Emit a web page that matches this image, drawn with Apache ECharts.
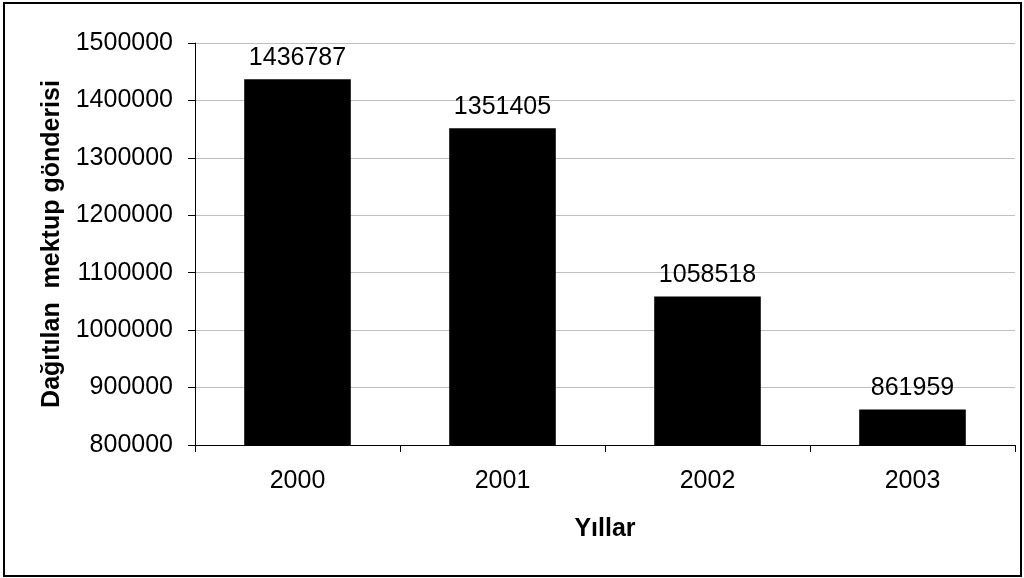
<!DOCTYPE html>
<html>
<head>
<meta charset="utf-8">
<script src="https://cdn.jsdelivr.net/npm/echarts@6/dist/echarts.min.js"></script>
<style>
  html, body { margin: 0; padding: 0; background: #fff; }
  #main { width: 1024px; height: 578px; }
</style>
</head>
<body>
<div id="main"></div>
<script>
var years = ['2000', '2001', '2002', '2003'];
var letters = [1436787, 1351405, 1058518, 861959];
var yTicks = { min: 800000, max: 1500000, step: 100000 };

var myChart = echarts.init(document.getElementById('main'));
var font = 'Liberation Sans, Arial, sans-serif';

var option = {
    animation: false,
    backgroundColor: '#fff',
    textStyle: { fontFamily: font },
    graphic: [{
        type: 'rect',
        shape: { x: 4, y: 3, width: 1017, height: 573 },
        style: { fill: 'none', stroke: '#000', lineWidth: 2 }
    }],
    grid: { left: 195, right: 9, top: 43, bottom: 133 },
    xAxis: {
        type: 'category',
        data: years,
        name: 'Yıllar',
        nameLocation: 'middle',
        nameGap: 72,
        nameTextStyle: { fontFamily: font, fontSize: 25, fontWeight: 'bold', color: '#000' },
        axisLine: { lineStyle: { color: '#000', width: 1 } },
        axisTick: { show: true, length: 7, lineStyle: { color: '#000' } },
        axisLabel: { fontFamily: font, fontSize: 25, color: '#000', margin: 24 }
    },
    yAxis: {
        type: 'value',
        min: yTicks.min,
        max: yTicks.max,
        interval: yTicks.step,
        name: 'Dağıtılan  mektup gönderisi',
        nameLocation: 'middle',
        nameGap: 123,
        nameTextStyle: { fontFamily: font, fontSize: 25, fontWeight: 'bold', color: '#000' },
        axisLine: { show: true, lineStyle: { color: '#000', width: 1 } },
        axisTick: { show: true, length: 7, lineStyle: { color: '#000' } },
        axisLabel: {
            fontFamily: font, fontSize: 25, color: '#000', margin: 22,
            formatter: function (v) { return String(v); }
        },
        splitLine: { show: true, lineStyle: { color: '#c0c0c0', width: 1 } }
    },
    series: [{
        name: 'Dağıtılan mektup gönderisi',
        type: 'bar',
        data: letters,
        barCategoryGap: '48%',
        itemStyle: { color: '#000' },
        label: {
            show: true,
            position: 'top',
            distance: 9,
            fontFamily: font,
            fontSize: 25,
            color: '#000'
        }
    }]
};
myChart.setOption(option);
</script>
</body>
</html>
